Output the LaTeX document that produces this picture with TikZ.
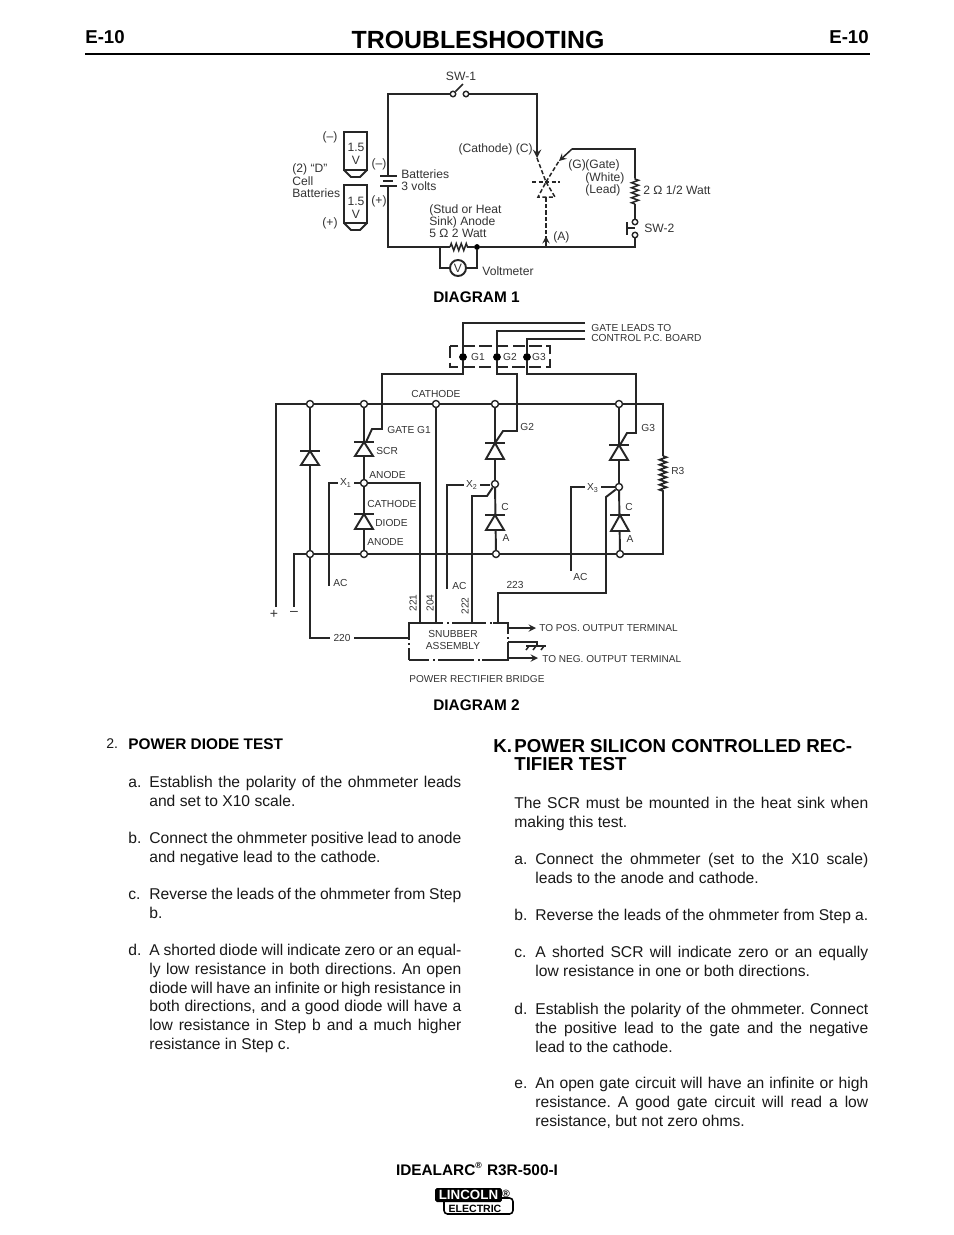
\documentclass[tikz,border=0pt]{standalone}
\usepackage{fontspec}
\setmainfont{Liberation Sans}
\usetikzlibrary{arrows}
\usetikzlibrary{positioning}
\usetikzlibrary{decorations.pathmorphing}
\tikzset{
  mywire/.style={
    draw=black!85,
    line width=1.1pt,
  },
  mythin/.style={
    draw=black!85,
    line width=0.85pt,
  },
  mydash/.style={
    draw=black!85,
    line width=0.85pt,
    dash pattern=on 2.4pt off 1.3pt,
  },
  myjunction/.style={
    draw=black!85,
    shape=circle,
    line width=0.8pt,
    fill=white,
    inner sep=0pt,
    minimum size=0.14cm,
  },
  mydot/.style={
    draw=black,
    shape=circle,
    fill=black,
    inner sep=0pt,
    minimum size=0.14cm,
  },
  myresistor/.style={
    mythin,
    decorate,
    decoration={zigzag, segment length=0.1cm, amplitude=0.07cm},
  },
  mytext/.style={
    text=black!80,
    inner sep=0pt,
    font=\fontsize{6.9}{7}\selectfont,
  },
  mysmall/.style={
    text=black!80,
    inner sep=0pt,
    font=\fontsize{5.8}{6}\selectfont,
  },
  mywide/.style={
    mysmall,
    anchor=west,
    font=\fontsize{5.72}{6}\selectfont,
  },
  mypara/.style={
    anchor=north west,
    inner sep=0pt,
    align=justify,
    text=black!90,
    font=\frenchspacing\fontsize{8.9}{10.63}\selectfont,
  },
  myhead/.style={
    inner sep=0pt,
    font=\fontsize{8.75}{10}\selectfont\bfseries,
  },
  mybig/.style={
    anchor=north west,
    inner sep=0pt,
    align=left,
    font=\fontsize{10.65}{10.2}\selectfont\bfseries,
  },
}
\newcommand{\mydiode}[3]{
  \draw [mywire] (#1-10,#2) -- (#1+10,#2);
  \draw [mywire, fill=white] (#1,#2) -- (#1+9,#3) -- (#1-9,#3) -- cycle;
}
\newcommand{\mycell}[2]{
  \draw [mythin] (344,#1) rectangle (367,#2);
  \draw [mywire] (344,#2) -- (351,#2+7) -- (360,#2+7) -- (367,#2);
}
\begin{document}
\begin{tikzpicture}[x=0.02cm, y=-0.02cm]
    \useasboundingbox (0,0) rectangle (954,1235);
    \fill [white] (0,0) rectangle (954,1235);

    % page head
    \node [inner sep=0pt, font=\fontsize{14.15}{15}\selectfont\bfseries] (title) at (478,40) {TROUBLESHOOTING};
    \node [inner sep=0pt, font=\fontsize{10.6}{11}\selectfont\bfseries] (pageL) at (105,37) {E-10};
    \node [inner sep=0pt, font=\fontsize{10.6}{11}\selectfont\bfseries] (pageR) at (849,37) {E-10};
    \coordinate (ruleL) at (85,54);
    \coordinate (ruleR) at (870,54);
    \draw [line width=1.5pt] (ruleL) -- (ruleR);

    % diagram 1
    \node [myjunction, minimum size=0.11cm] (swA) at (453,94) {};
    \node [myjunction, minimum size=0.11cm] (swB) at (466,94) {};
    \coordinate (swTip) at (463,84);
    \coordinate (topL) at (388,94);
    \coordinate (topR) at (537,94);
    \coordinate (batT) at (388,176);
    \coordinate (batB) at (388,186);
    \coordinate (botL) at (388,247);
    \coordinate (botR) at (635,247);
    \coordinate (cath) at (537,158);
    \coordinate (mid) at (546,182);
    \coordinate (gate) at (559,161);
    \coordinate (gateB) at (572,149);
    \coordinate (gateR) at (635,149);
    \coordinate (resT) at (635,178);
    \coordinate (resB) at (635,204);
    \node [myjunction, minimum size=0.11cm] (swC) at (635,222) {};
    \node [myjunction, minimum size=0.11cm] (swD) at (635,235) {};
    \coordinate (anodeT) at (546,197);
    \coordinate (anodeB) at (546,247);
    \coordinate (anodeA) at (546,236);
    \coordinate (pushL) at (627,228);
    \coordinate (pushR) at (635,228);
    \coordinate (rbL) at (450,247);
    \coordinate (rbR) at (468,247);
    \node [mydot, minimum size=0.1cm] (vDot) at (477,247) {};
    \coordinate (vL) at (440,247);
    \node [myjunction, minimum size=0.32cm, mywire] (volt) at (458,268) {};
    \node [mytext] (voltV) at (458,268) {V};

    \draw [mythin] (swA) -- (topL) -- (batT);
    \draw [mythin] (swA) -- (swTip);
    \draw [mywire, -stealth] (swB) -- (topR) -- (cath);
    \draw [mythin] (batB) -- (botL) -- (rbL);
    \draw [myresistor] (rbL) -- (rbR);
    \draw [mythin] (rbR) -- (vDot) -- (botR) -- (swD);
    \draw [mythin] (swC) -- (resB);
    \draw [myresistor] (resB) -- (resT);
    \draw [mywire] (resT) -- (gateR) -- (gateB);
    \draw [mythin, -stealth] (gateB) -- (gate);
    \draw [mydash] (mid) -- (gate);
    \draw [mydash] (cath) -- (mid);
    \draw [mydash] (532,182) -- (560,182);
    \draw [mydash] (mid) -- (555,197) -- (538,197) -- cycle;
    \draw [mydash, line width=1.1pt] (anodeB) -- (anodeT);
    \draw [mythin, -stealth] (anodeB) -- (anodeA);
    \draw [mywire] (vL) |- (volt);
    \draw [mywire] (volt) -| (vDot);
    \draw [mywire] (627,222) -- (627,235);
    \draw [mythin] (pushL) -- (pushR);
    \draw [mythin] (380,176) -- (397,176);
    \draw [mythin] (383,181) -- (393,181);
    \draw [mythin] (380,186) -- (397,186);
    \mycell{132}{170}
    \mycell{185}{223}

    \node [mytext, align=center] (cellA) at (356,154) {1.5\\[0.4pt]V};
    \node [mytext, align=center] (cellB) at (356,207.5) {1.5\\[0.4pt]V};
    \node [mytext] (sw1) at (461,76) {SW-1};
    \node [mytext] (minA) at (330,137) {(–)};
    \node [mytext] (plusA) at (330,223) {(+)};
    \node [mytext] (minB) at (379,164) {(–)};
    \node [mytext] (plusB) at (379,201) {(+)};
    \node [mytext, anchor=west, align=left, font=\fontsize{6.9}{7.1}\selectfont] (cells) at (292,181) {(2) “D”\\Cell\\Batteries};
    \node [mytext, anchor=west, align=left] (bat) at (401,180.5) {Batteries\\3 volts};
    \node [mytext, anchor=west, align=left] (stud) at (429,221) {(Stud or Heat\\Sink) Anode\\5 Ω 2 Watt};
    \node [mytext, anchor=east] (cathL) at (533,149) {(Cathode) (C)};
    \node [mytext, anchor=west] (gL) at (568,165) {(G)};
    \node [mytext, anchor=west, align=left] (gateL) at (585,178) {(Gate)\\(White)\\(Lead)};
    \node [mytext, anchor=west] (res2) at (643,190) {2 Ω 1/2 Watt};
    \node [mytext, anchor=west] (sw2) at (644,228) {SW-2};
    \node [mytext, anchor=west] (aL) at (553,237) {(A)};
    \node [mytext, anchor=west] (vmL) at (482,271) {Voltmeter};
    \node [myhead] (diag1) at (476.5,297) {DIAGRAM 1};

    % diagram 2
    \node [myjunction] (cA) at (310,404) {};
    \node [myjunction] (cB) at (364,404) {};
    \node [myjunction] (cC) at (436,404) {};
    \node [myjunction] (cD) at (495,404) {};
    \node [myjunction] (cE) at (619,404) {};
    \node [myjunction] (aA) at (310,554) {};
    \node [myjunction] (aB) at (364,554) {};
    \node [myjunction] (aC) at (496,554) {};
    \node [myjunction] (aD) at (620,554) {};
    \node [myjunction] (xA) at (364,483) {};
    \node [myjunction] (xB) at (495,484) {};
    \node [myjunction] (xC) at (619,487) {};
    \node [mydot] (dotA) at (463,357) {};
    \node [mydot] (dotB) at (497,357) {};
    \node [mydot] (dotC) at (527,357) {};
    \draw [mywire, dashed, dash pattern=on 7pt off 2.5pt] (450,346) rectangle (550,367);

    \node [inner sep=0pt, minimum width=1.98cm, minimum height=0.74cm] (snub) at (458.5,641.5) {};
    \node [mysmall, align=center, font=\fontsize{5.8}{7.2}\selectfont] (snubL) at (453,640) {SNUBBER\\ASSEMBLY};

    \node [mysmall, anchor=west, align=left] (leads) at (591,333) {GATE LEADS TO\\CONTROL P.C. BOARD};
    \coordinate (leadA) at (585,323);
    \coordinate (leadB) at (585,331);
    \coordinate (leadC) at (585,339);
    \coordinate (railL) at (276,404);
    \coordinate (railR) at (663,404);
    \coordinate (plus) at (276,607);
    \coordinate (minus) at (294,607);
    \coordinate (lowL) at (294,554);
    \coordinate (resT3) at (663,456);
    \coordinate (resB3) at (663,493);

    \draw [mywire] (leadA) -| (dotA);
    \draw [mywire] (dotA) |- (382,374) |- (372,429) -- (366,442);
    \draw [mywire] (leadB) -| (dotB);
    \draw [mywire] (dotB) |- (517,374) |- (503,431) -- (495,443);
    \draw [mywire] (leadC) -| (dotC);
    \draw [mywire] (dotC) |- (636,374) |- (627,433) -- (620,445);

    \draw [mywire] (plus) -- (railL) -- (cA) -- (cB) -- (cC) -- (cD) -- (cE) -- (railR) -- (resT3);
    \draw [myresistor, line width=1pt] (resT3) -- (resB3);
    \draw [mywire] (resB3) |- (aD) -- (aC) -- (aB) -- (aA) -- (lowL) -- (minus);

    \draw [mywire] (cA) -- (aA);
    \draw [mywire] (aA) -- (310,638) -- (snub.west |- 0,638);
    \draw [mywire] (cB) -- (xA) -- (aB);
    \draw [mywire] (cD) -- (xB) -- (aC);
    \draw [mywire] (cE) -- (xC) -- (aD);
    \draw [mywire] (xA) -- (420,483) -- (420,623);
    \draw [mywire] (cC) -- (436,623);
    \draw [mywire] (472,623) -- (472,496) -- (487,496) -- (xB);
    \draw [mywire] (498,623) -- (498,593) -- (606,593) -- (606,497) -- (xC);
    \draw [mythin, line width=0.9pt] (xA) -- (329,483) -- (329,586);
    \draw [mythin, line width=0.9pt] (490,485) -- (447,485) -- (447,589);
    \draw [mythin, line width=0.9pt] (xC) -- (571,487) -- (571,571);

    \mydiode{310}{451}{465}
    \mydiode{364}{442}{456}
    \mydiode{364}{514}{529}
    \mydiode{495}{443}{459}
    \mydiode{495}{515}{530}
    \mydiode{619}{445}{460}
    \mydiode{620}{515}{531}

    % box of the snubber, broken by dots
    \draw [mywire] (409,660) -- (409,650);
    \draw [mywire] (409,638) -- (409,623) -- (442,623);
    \draw [mywire] (453,623) -- (485,623);
    \draw [mywire] (493,623) -- (508,623) -- (508,632);
    \draw [mywire] (508,642) -- (508,660) -- (482,660);
    \draw [mywire] (473,660) -- (440,660);
    \draw [mywire] (428,660) -- (409,660);
    \draw [mythin, dotted] (442,623) -- (453,623);
    \draw [mythin, dotted] (485,623) -- (493,623);
    \draw [mythin, dotted] (409,638) -- (409,650);
    \draw [mythin, dotted] (508,632) -- (508,642);
    \draw [mythin, dotted] (428,660) -- (440,660);
    \draw [mythin, dotted] (473,660) -- (482,660);

    \coordinate (termA) at (536,628);
    \coordinate (termB) at (538,658);
    \draw [mythin, -stealth] (508,628) -- (termA);
    \draw [mythin, -stealth] (508,658) -- (termB);
    \draw [mythin] (508,642) -- (537,642) -- (537,646);
    \draw [mythin] (526,646) -- (546,646);
    \draw [mythin] (529,646) -- (526,650);
    \draw [mythin] (536,646) -- (533,650);
    \draw [mythin] (544,646) -- (541,650);

    \node [mysmall] (catL) at (436,394) {CATHODE};
    \node [mysmall, anchor=west] (gateA) at (387,430) {GATE G1};
    \node [mysmall, anchor=west] (scrL) at (376,451) {SCR};
    \node [mysmall, anchor=west] (anoA) at (369,475) {ANODE};
    \node [mysmall, anchor=west] (catA) at (367,504) {CATHODE};
    \node [mysmall, anchor=west] (dioL) at (375,523) {DIODE};
    \node [mysmall, anchor=west] (anoB) at (367,542) {ANODE};
    \node [mysmall, fill=white, inner xsep=1.5pt] (xlA) at (346,483) {X\textsubscript{1}};
    \node [mysmall, fill=white, inner xsep=1.5pt] (xlB) at (472,485) {X\textsubscript{2}};
    \node [mysmall, fill=white, inner xsep=1.5pt] (xlC) at (593,488) {X\textsubscript{3}};
    \node [mysmall, anchor=west] (acA) at (333,583) {AC};
    \node [mysmall, anchor=west] (acB) at (452,586) {AC};
    \node [mysmall, anchor=west] (acC) at (573,577) {AC};
    \node [mysmall] (g1) at (478,357) {G1};
    \node [mysmall] (g2) at (510,357) {G2};
    \node [mysmall] (g3) at (539,357) {G3};
    \node [mysmall, anchor=west] (g2L) at (520,427) {G2};
    \node [mysmall, anchor=west] (g3L) at (641,428) {G3};
    \node [mysmall, anchor=west] (r3L) at (671,471) {R3};
    \node [mysmall] (cB2) at (505,507) {C};
    \node [mysmall] (aB2) at (506,538) {A};
    \node [mysmall] (cC2) at (629,507) {C};
    \node [mysmall] (aC2) at (630,539) {A};
    \node [mysmall, rotate=90] (w221) at (413,603) {221};
    \node [mysmall, rotate=90] (w204) at (430,603) {204};
    \node [mysmall, rotate=90] (w222) at (465,606) {222};
    \node [mysmall] (w223) at (515,585) {223};
    \node [mysmall, fill=white, inner xsep=2pt, inner ysep=1pt] (w220) at (342,638) {220};
    \node [mysmall, font=\fontsize{8}{8}\selectfont] (plusL) at (274,614) {+};
    \node [mysmall, font=\fontsize{8}{8}\selectfont] (minL) at (294,613) {–};
    \node [mywide] (posL) at (539,628) {TO POS. OUTPUT TERMINAL};
    \node [mywide] (negL) at (542,659) {TO NEG. OUTPUT TERMINAL};
    \node [mywide] (bridge) at (409,679) {POWER RECTIFIER BRIDGE};
    \node [myhead] (diag2) at (476.5,705) {DIAGRAM 2};

    % left column
    \node [mypara, align=left, font=\fontsize{8}{10}\selectfont] (numA) at (106,738) {2.};
    \node [myhead, anchor=west] (headA) at (128,744) {POWER DIODE TEST};
    \node [mypara, align=left] (itAa) at (128,776) {a.\vphantom{l}};
    \node [mypara, text width=6.24cm] (paAa) at (149,776) {Establish the polarity of the ohmmeter leads\linebreak and set to X10 scale.};
    \node [mypara, align=left] (itAb) at (128,832) {b.\vphantom{l}};
    \node [mypara, text width=6.24cm] (paAb) at (149,832) {Connect the ohmmeter positive lead to anode\linebreak and negative lead to the cathode.};
    \node [mypara, align=left] (itAc) at (128,888) {c.\vphantom{l}};
    \node [mypara, text width=6.24cm] (paAc) at (149,888) {Reverse the leads of the ohmmeter from Step\linebreak b.};
    \node [mypara, align=left] (itAd) at (128,944) {d.\vphantom{l}};
    \node [mypara, text width=6.24cm] (paAd) at (149,944) {A shorted diode will indicate zero or an equal-\linebreak ly low resistance in both directions. An open\linebreak diode will have an infinite or high resistance in\linebreak both directions, and a good diode will have a\linebreak low resistance in Step b and a much higher\linebreak resistance in Step c.};

    % right column
    \node [mybig] (numK) at (493,739) {K.};
    \node [mybig] (headK) at (514,739) {POWER SILICON CONTROLLED REC-\\TIFIER TEST};
    \node [mypara, text width=7.08cm] (paK) at (514,797) {The SCR must be mounted in the heat sink when\linebreak making this test.};
    \node [mypara, align=left] (itBa) at (514,853) {a.\vphantom{l}};
    \node [mypara, text width=6.66cm] (paBa) at (535,853) {Connect the ohmmeter (set to the X10 scale)\linebreak leads to the anode and cathode.};
    \node [mypara, align=left] (itBb) at (514,909) {b.\vphantom{l}};
    \node [mypara, text width=6.66cm] (paBb) at (535,909) {Reverse the leads of the ohmmeter from Step a.};
    \node [mypara, align=left] (itBc) at (514,946) {c.\vphantom{l}};
    \node [mypara, text width=6.66cm] (paBc) at (535,946) {A shorted SCR will indicate zero or an equally\linebreak low resistance in one or both directions.};
    \node [mypara, align=left] (itBd) at (514,1003) {d.\vphantom{l}};
    \node [mypara, text width=6.66cm] (paBd) at (535,1003) {Establish the polarity of the ohmmeter. Connect\linebreak the positive lead to the gate and the negative\linebreak lead to the cathode.};
    \node [mypara, align=left] (itBe) at (514,1077) {e.\vphantom{l}};
    \node [mypara, text width=6.66cm] (paBe) at (535,1077) {An open gate circuit will have an infinite or high\linebreak resistance. A good gate circuit will read a low\linebreak resistance, but not zero ohms.};

    % foot
    \node [myhead] (foot) at (477,1169) {IDEALARC\textsuperscript{\fontsize{5}{5}\selectfont ®} R3R-500-I};
    \node [draw=black, line width=0.9pt, rounded corners=2pt, minimum width=1.38cm, minimum height=0.32cm, inner sep=0pt] (logoB) at (478.5,1206) {};
    \node [inner sep=0pt, font=\fontsize{6}{6}\selectfont\bfseries] (electric) at (475,1208.5) {ELECTRIC};
    \node [fill=black, text=white, rounded corners=1pt, minimum width=1.34cm, minimum height=0.28cm, inner sep=0pt, font=\fontsize{7.6}{8}\selectfont\bfseries] (lincoln) at (468.5,1195) {LINCOLN};
    \node [inner sep=0pt, font=\fontsize{6}{6}\selectfont\bfseries] (regM) at (506,1194) {®};
\end{tikzpicture}
\end{document}
